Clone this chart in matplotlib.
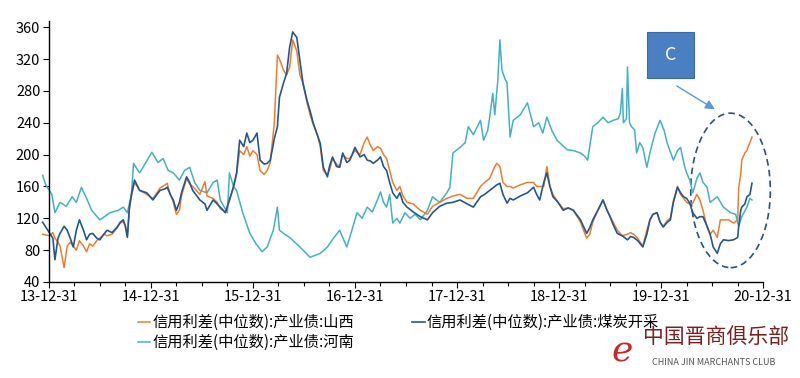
import matplotlib.pyplot as plt
from matplotlib.patches import Ellipse, Rectangle
import numpy as np

plt.rcParams['font.family'] = ['Noto Sans CJK SC', 'DejaVu Sans']

# time axis: years since 2013-12-31 (tick "13-12-31" = 0)
t_main = [-0.06, 0.01, 0.04, 0.06, 0.09, 0.11, 0.15, 0.18, 0.21, 0.24, 0.27, 0.30, 0.34, 0.37,
          0.40, 0.43, 0.47, 0.50, 0.54, 0.57, 0.62, 0.67, 0.70, 0.73, 0.75, 0.77, 0.79, 0.81,
          0.84, 0.89, 0.96, 1.02, 1.06, 1.09, 1.14, 1.16, 1.19, 1.22, 1.25, 1.28, 1.30, 1.35,
          1.38, 1.41, 1.48, 1.53, 1.55, 1.61, 1.65, 1.68, 1.73, 1.77, 1.81, 1.84, 1.87, 1.91,
          1.94, 1.97, 2.00, 2.04, 2.07, 2.11, 2.14, 2.17, 2.21, 2.24, 2.26, 2.30, 2.33, 2.36,
          2.39, 2.43, 2.46, 2.49, 2.53, 2.56, 2.59, 2.63, 2.66, 2.69, 2.73, 2.75, 2.78, 2.82,
          2.85, 2.88, 2.92, 2.95, 3.00, 3.05, 3.09, 3.12, 3.15, 3.18, 3.22, 3.25, 3.28, 3.31,
          3.34, 3.37, 3.41, 3.44, 3.47, 3.51, 3.57, 3.64, 3.71, 3.76, 3.83, 3.90, 3.96, 4.03,
          4.10, 4.16, 4.23, 4.27, 4.32, 4.37, 4.39, 4.42, 4.45, 4.49, 4.52, 4.55, 4.62, 4.69,
          4.75, 4.78, 4.81, 4.85, 4.88, 4.91, 4.94, 4.99, 5.04, 5.09, 5.14, 5.21, 5.27, 5.30,
          5.33, 5.38, 5.43, 5.47, 5.50, 5.53, 5.57, 5.62, 5.67, 5.70, 5.73, 5.77, 5.82, 5.86,
          5.89, 5.92, 5.96, 5.99, 6.02, 6.06, 6.09, 6.12, 6.16, 6.19, 6.22, 6.25, 6.28, 6.31,
          6.35, 6.38, 6.41, 6.45, 6.48, 6.51, 6.55, 6.58, 6.61, 6.66, 6.71, 6.75, 6.76, 6.78,
          6.79, 6.82, 6.84, 6.85, 6.87, 6.89]

coal = [115, 101, 95, 68, 95, 101, 110, 105, 95, 84, 105, 118, 105, 93,
        100, 101, 95, 93, 100, 105, 102, 109, 115, 118, 110, 96, 134, 150,
        168, 155, 152, 143, 150, 155, 157, 159, 150, 143, 130, 140, 152, 172,
        165, 155, 143, 138, 130, 143, 138, 134, 127, 143, 160, 177, 218, 210,
        227, 215, 218, 227, 193, 188, 189, 193, 220, 235, 272, 290, 302, 335,
        354, 347, 319, 290, 268, 255, 240, 225, 214, 184, 172, 185, 197, 185,
        184, 202, 190, 193, 209, 197, 200, 193, 192, 189, 193, 197, 185, 180,
        165, 152, 145, 152, 140, 134, 128, 122, 118, 127, 135, 139, 140, 143,
        138, 134, 147, 150, 155, 160, 162, 164, 150, 139, 145, 143, 148, 152,
        159, 150, 143, 165, 177, 160, 147, 140, 130, 133, 130, 118, 101, 108,
        118, 130, 143, 130, 122, 112, 101, 98, 93, 97, 96, 92, 84, 100,
        118, 125, 127, 115, 109, 115, 118, 140, 159, 152, 147, 145, 139, 127,
        120, 122, 122, 110, 100, 84, 76, 88, 93, 92, 93, 96, 110, 130,
        134, 138, 147, 148, 150, 164]

shanxi = [100, 98, 102, 95, 90, 85, 58, 85, 90, 85, 80, 92, 85, 78,
          88, 85, 92, 95, 100, 98, 100, 108, 114, 116, 110, 98, 132, 148,
          165, 155, 150, 145, 152, 158, 162, 164, 150, 140, 125, 130, 148, 170,
          163, 160, 150, 166, 148, 145, 140, 132, 128, 143, 158, 175, 205, 200,
          210, 198, 205, 200, 180, 175, 180, 190, 240, 325, 320, 306, 300, 310,
          344, 330, 300, 290, 265, 250, 238, 225, 210, 180, 175, 180, 195, 188,
          185, 200, 195, 195, 205, 200, 215, 222, 212, 205, 210, 208, 200, 195,
          180, 165, 155, 160, 148, 140, 138, 130, 125, 135, 140, 145, 148, 150,
          145, 145, 160, 165, 170, 185, 189, 185, 165, 160, 160, 158, 162, 165,
          165, 160, 160, 160, 185, 160, 150, 140, 132, 133, 130, 115, 95, 100,
          115, 130, 143, 130, 122, 115, 105, 98, 100, 102, 100, 95, 85, 105,
          118, 125, 127, 115, 110, 117, 120, 142, 160, 150, 145, 140, 138, 139,
          150, 143, 130, 109, 100, 105, 96, 118, 118, 118, 114, 118, 159, 175,
          193, 202, 205, 209, 215, 222]

t_henan = [-0.06, -0.03, 0.03, 0.06, 0.11, 0.17, 0.23, 0.27, 0.32, 0.37, 0.42, 0.50, 0.60, 0.68,
           0.73, 0.77, 0.81, 0.83, 0.89, 0.95, 1.01, 1.07, 1.12, 1.17, 1.22, 1.28, 1.33, 1.38,
           1.43, 1.48, 1.55, 1.61, 1.65, 1.68, 1.75, 1.77, 1.81, 1.84, 1.90, 1.97, 2.03, 2.09,
           2.14, 2.20, 2.24, 2.26, 2.31, 2.36, 2.46, 2.56, 2.66, 2.73, 2.79, 2.85, 2.92, 2.97,
           3.02, 3.07, 3.12, 3.17, 3.22, 3.25, 3.28, 3.31, 3.34, 3.37, 3.41, 3.44, 3.49, 3.54,
           3.59, 3.64, 3.71, 3.76, 3.83, 3.90, 3.93, 3.96, 4.03, 4.08, 4.11, 4.16, 4.23, 4.26,
           4.30, 4.32, 4.35, 4.37, 4.40, 4.42, 4.44, 4.47, 4.49, 4.52, 4.55, 4.62, 4.69, 4.75,
           4.80, 4.84, 4.88, 4.93, 4.98, 5.03, 5.08, 5.14, 5.21, 5.25, 5.28, 5.33, 5.38, 5.43,
           5.48, 5.53, 5.58, 5.60, 5.62, 5.63, 5.66, 5.67, 5.69, 5.71, 5.74, 5.76, 5.79, 5.82,
           5.86, 5.89, 5.94, 5.99, 6.03, 6.06, 6.12, 6.16, 6.19, 6.23, 6.25, 6.28, 6.31, 6.35,
           6.38, 6.41, 6.45, 6.48, 6.55, 6.61, 6.68, 6.73, 6.76, 6.79, 6.84, 6.87, 6.89]

henan = [174, 162, 150, 127, 140, 135, 147, 140, 159, 145, 130, 118, 127, 130,
         134, 127, 150, 189, 177, 190, 203, 190, 195, 180, 177, 168, 180, 184,
         165, 155, 152, 165, 168, 143, 127, 177, 160, 155, 127, 101, 88, 78,
         84, 105, 134, 105, 100, 96, 84, 71, 76, 84, 95, 105, 84, 105,
         127, 120, 134, 128, 143, 153, 140, 134, 150, 114, 120, 114, 127, 120,
         125, 118, 130, 147, 140, 152, 159, 202, 209, 215, 235, 225, 243, 218,
         230, 247, 277, 250, 294, 344, 306, 295, 290, 222, 243, 250, 265, 235,
         240, 227, 247, 230, 218, 212, 206, 205, 202, 198, 193, 235, 240, 247,
         240, 243, 245, 252, 283, 240, 245, 310, 240, 235, 231, 202, 215, 209,
         184, 202, 227, 243, 230, 214, 193, 205, 209, 185, 177, 168, 152, 170,
         177, 165, 159, 140, 147, 134, 127, 125, 110, 122, 134, 145, 143]

year_ticks = [0, 1, 2, 3, 4, 5, 6, 7]
year_labels = ['13-12-31', '14-12-31', '15-12-31', '16-12-31',
               '17-12-31', '18-12-31', '19-12-31', '20-12-31']
y_ticks = [40, 80, 120, 160, 200, 240, 280, 320, 360]

fig = plt.figure(figsize=(8, 3.78), dpi=100)
ax = fig.add_axes([0.061, 0.254, 0.893, 0.691])

l_hn, = ax.plot(t_henan, henan, color='#45b0c4', lw=1.1, clip_on=False,
                label='信用利差(中位数):产业债:河南')
l_sx, = ax.plot(t_main, shanxi, color='#ed7d31', lw=1.1, clip_on=False,
                label='信用利差(中位数):产业债:山西')
l_mt, = ax.plot(t_main, coal, color='#24578f', lw=1.2, clip_on=False,
                label='信用利差(中位数):产业债:煤炭开采')

ax.set_xlim(0, 7)
ax.set_ylim(40, 368)
ax.set_xticks(year_ticks)
ax.set_xticklabels(year_labels)
ax.set_xticks(np.arange(0, 7.01, 0.25), minor=True)
ax.set_yticks(y_ticks)
ax.tick_params(axis='both', labelsize=10.5, direction='out', length=4, width=0.8, pad=2)
ax.tick_params(axis='x', which='minor', length=3, width=0.8)
for s in ['top', 'right']:
    ax.spines[s].set_visible(False)
for s in ['left', 'bottom']:
    ax.spines[s].set_linewidth(1.0)

# annotation: box "C", arrow and dashed ellipse
ax.add_patch(Rectangle((5.86, 296), 0.46, 58, facecolor='#4a7fc1',
                       edgecolor='#3a6aa8', lw=0.8, clip_on=False, zorder=5))
ax.text(6.09, 325, 'C', color='white', fontsize=13, ha='center', va='center', zorder=6)
ax.annotate('', xy=(6.55, 255), xytext=(6.13, 288),
            arrowprops=dict(arrowstyle='-|>', color='#5b9bd5', lw=1.0,
                            mutation_scale=14))
ax.add_patch(Ellipse((6.68, 155), 0.78, 194, fill=False, edgecolor='#2f4f7f',
                     ls=(0, (4, 2.5)), lw=1.2, clip_on=False))

fig.legend(handles=[l_sx, l_hn, l_mt], ncol=2, frameon=False, fontsize=11,
           loc='upper left', bbox_to_anchor=(0.165, 0.185),
           handlelength=0.8, handletextpad=0.15, columnspacing=3.8,
           labelspacing=0.2, borderaxespad=0)

# watermark
fig.text(0.778, 0.07, 'e', color='#c8282b', fontsize=26, style='italic',
         family='DejaVu Serif', ha='center', va='center')
fig.text(0.895, 0.108, '中国晋商俱乐部', color='#7a2020', fontsize=15,
         ha='center', va='center')
fig.text(0.892, 0.042, 'CHINA JIN MARCHANTS CLUB', color='#555555', fontsize=6.5,
         ha='center', va='center')

fig.savefig('out.png', dpi=100, facecolor='white')
